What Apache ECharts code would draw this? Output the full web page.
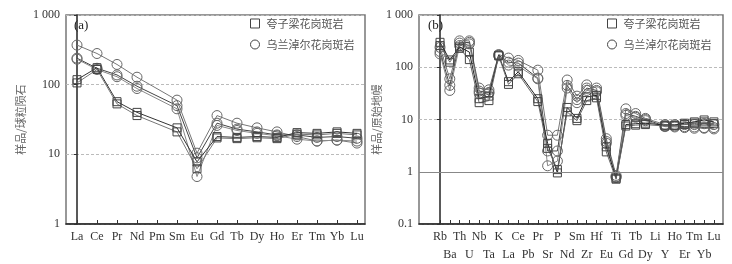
<!DOCTYPE html>
<html><head><meta charset="utf-8">
<script src="https://cdn.jsdelivr.net/npm/echarts@6/dist/echarts.min.js"></script>
<style>html,body{margin:0;padding:0;background:#fff}#c{width:732px;height:264px}</style>
</head><body><div id="c"></div>
<script>
// ---- Data ----
const reeElements = ['La','Ce','Pr','Nd','Pm','Sm','Eu','Gd','Tb','Dy','Ho','Er','Tm','Yb','Lu'];
const reeSquare1 = [118,175,57,40,null,24,7.8,18,17.5,18,17.5,20.5,20,21,20];
const reeSquare2 = [106,165,53,36,null,21,6.2,17.2,16.8,17.3,16.8,19.5,19,20,19];
const reeCircle1 = [370,280,195,128,null,60,10.4,36,28,24,21,18,15.5,16,14.5];
const reeCircle2 = [240,172,138,95,null,50,8.9,28,23,21,19,19,17.5,18,17];
const reeCircle3 = [232,165,130,88,null,45,4.8,26,22,20,18.5,16.5,15.5,16,15.5];

const spiderElements = ['Rb','Ba','Th','U','Nb','Ta','K','La','Ce','Pb','Pr','Sr','P','Nd','Sm','Zr','Hf','Eu','Ti','Gd','Tb','Dy','Li','Y','Ho','Er','Tm','Yb','Lu'];
const spSquare1 = [300,138,245,195,25,28,170,53,82,null,25,3.5,0.95,17,10.5,27,29,3.0,0.75,8.0,8.3,8.5,null,7.8,7.8,8.5,9.0,9.8,9.0];
const spSquare2 = [260,125,230,140,21,23,165,47,75,null,22,2.8,1.1,14,9.5,23,26,2.4,0.72,7.5,7.8,8.0,null,7.5,7.6,8.0,8.5,9.0,8.3];
const spCircle1 = [240,60,320,320,40,37,175,150,135,null,88,5.0,5.0,57,28,46,40,4.3,0.85,16,13,10.5,null,8.0,8.0,8.0,8.0,8.3,8.0];
const spCircle2 = [200,45,290,300,35,33,170,125,120,null,62,2.5,2.5,45,24,40,36,3.8,0.8,13,11.5,10,null,7.5,7.5,7.3,7.2,7.0,7.0];
const spCircle3 = [180,36,260,280,32,32,165,110,105,null,60,1.3,1.6,40,21,36,34,3.5,0.78,12,11,9.5,null,7.3,7.2,7.0,6.8,6.8,6.6];

const ySeriesNameSq = '夸子梁花岗斑岩';
const ySeriesNameCi = '乌兰淖尔花岗斑岩';
const yTitleA = '样品/球粒陨石';
const yTitleB = '样品/原始地幔';

// ---- Build ----
const serif = 'Liberation Serif';
const cjk = 'Noto Sans CJK SC';
function pts(arr){ const o=[]; arr.forEach((v,i)=>{ if(v!=null) o.push([i,v]); }); return o; }
function fmtY(v){ return v===1000 ? '1 000' : String(v); }

function mk(name, arr, gi, sq, col, extra){
  return Object.assign({
    type:'line', name:name, xAxisIndex:gi, yAxisIndex:gi, data:pts(arr),
    symbol: sq ? 'rect' : 'circle', symbolSize: sq ? 8 : 10,
    itemStyle:{color:'rgba(255,255,255,0)', borderColor: sq ? '#444' : '#666', borderWidth:1},
    lineStyle:{color:col, width:1},
    emphasis:{disabled:true}, silent:true, z: sq?3:2
  }, extra||{});
}

function xAxis(gi, cats, min, max, which){
  // which: 'all' | 'even' | 'odd'
  const all = cats.map((_,i)=>i);
  const lab = which==='all' ? all : all.filter(i => which==='even' ? i%2===0 : i%2===1);
  const main = which !== 'odd';
  return {
    type:'value', gridIndex:gi, min:min, max:max, position:'bottom',
    axisLine:{show:main, onZero:false, lineStyle:{color:'#222', width:1.5}},
    axisTick:{show:main, inside:true, length:4, customValues:all, lineStyle:{color:'#333'}},
    axisLabel:{customValues:lab, margin: which==='odd' ? 25 : 7, color:'#333', fontFamily:serif, fontSize:12,
      showMinLabel:true, showMaxLabel:true, hideOverlap:false,
      formatter:(v)=>{ const n=cats[Math.round(v)]; return n==null ? '' : n; }},
    splitLine:{show:false}
  };
}
function yAxis(gi, min, max, title, gap){
  return {
    type:'log', logBase:10, gridIndex:gi, min:min, max:max,
    name:title, nameLocation:'middle', nameRotate:90, nameGap:gap,
    nameTextStyle:{fontFamily:cjk, fontSize:11, color:'#666'},
    axisLine:{show:true, lineStyle:{color:'#222', width:1.5}},
    axisTick:{show:true, length:3, lineStyle:{color:'#333'}},
    axisLabel:{margin:6, color:'#333', fontFamily:serif, fontSize:12, formatter:fmtY},
    splitLine:{show:true, lineStyle:{color:'#bbb', type:[3,2], width:1}},
    minorTick:{show:false}
  };
}

const legendData = [
  {name:ySeriesNameSq, icon:'rect', itemStyle:{color:'rgba(255,255,255,0)', borderColor:'#444', borderWidth:1}},
  {name:ySeriesNameCi, icon:'circle', itemStyle:{color:'rgba(255,255,255,0)', borderColor:'#444', borderWidth:1}}
];
function legend(left){
  return {left:left, top:18, padding:0, orient:'vertical', itemWidth:9, itemHeight:9, itemGap:10, data:legendData,
    selectedMode:false, textStyle:{fontFamily:cjk, fontSize:11, color:'#555', padding:[0,0,0,2]}};
}

const option = {
  animation:false,
  title:[
    {text:'(a)', left:69, top:14, textStyle:{fontFamily:serif, fontSize:13, fontWeight:'normal', color:'#222'}},
    {text:'(b)', left:423, top:14, textStyle:{fontFamily:serif, fontSize:13, fontWeight:'normal', color:'#222'}}
  ],
  legend:[legend(250), legend(607)],
  grid:[
    {left:66, top:15, width:299, height:209, show:true, borderColor:'#777', borderWidth:1.5, containLabel:false},
    {left:419, top:15, width:304, height:209, show:true, borderColor:'#777', borderWidth:1.5, containLabel:false}
  ],
  xAxis:[
    xAxis(0, reeElements, -0.55, 14.4, 'all'),
    xAxis(1, spiderElements, -2.15, 28.93, 'even'),
    xAxis(1, spiderElements, -2.15, 28.93, 'odd')
  ],
  yAxis:[ yAxis(0, 1, 1000, yTitleA, 40), yAxis(1, 0.1, 1000, yTitleB, 28) ],
  series:[
    mk(ySeriesNameCi, reeCircle1, 0, false, '#777'),
    mk(ySeriesNameCi, reeCircle2, 0, false, '#444'),
    mk(ySeriesNameCi, reeCircle3, 0, false, '#888'),
    mk(ySeriesNameSq, reeSquare1, 0, true, '#333'),
    mk(ySeriesNameSq, reeSquare2, 0, true, '#777'),
    mk(ySeriesNameCi, spCircle1, 1, false, '#777', {markLine:{silent:true, symbol:'none', label:{show:false}, lineStyle:{color:'#888', type:'solid', width:1}, data:[{yAxis:1}]}}),
    mk(ySeriesNameCi, spCircle2, 1, false, '#444'),
    mk(ySeriesNameCi, spCircle3, 1, false, '#888'),
    mk(ySeriesNameSq, spSquare1, 1, true, '#222'),
    mk(ySeriesNameSq, spSquare2, 1, true, '#666')
  ]
};
option.series.forEach(s => { if (s.xAxisIndex === 1) { /* data on the main spider axis */ } });
const chart = echarts.init(document.getElementById('c'), null, {renderer:'canvas'});
chart.setOption(option);
</script></body></html>
